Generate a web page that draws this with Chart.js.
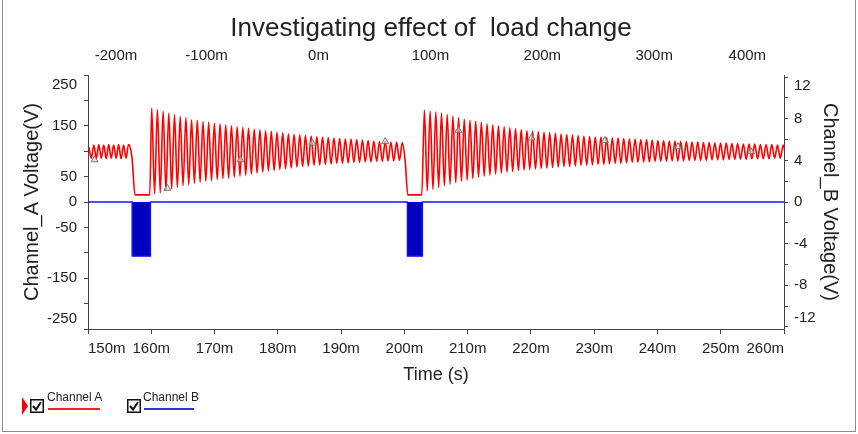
<!DOCTYPE html>
<html>
<head>
<meta charset="utf-8">
<script src="https://cdn.jsdelivr.net/npm/chart.js@4.4.1/dist/chart.umd.min.js"></script>
<style>
  html, body { margin: 0; padding: 0; background: #fff; }
  #wrap { position: relative; width: 858px; height: 434px; font-family: "Liberation Sans", Arial, sans-serif; }
  #scope { position: absolute; left: 0; top: 0; }
  #frame { position: absolute; left: 2px; top: 0; width: 852px; height: 431px; border: 1px solid #8c8c8c; border-top: none; }
  .flag { position: absolute; left: 22px; top: 397px; width: 0; height: 0; border-left: 6px solid #ff0000; border-top: 9px solid transparent; border-bottom: 9px solid transparent; }
  .box { position: absolute; top: 399px; }
  .name { position: absolute; top: 390px; font-size: 12px; color: #222; }
  .line { position: absolute; top: 408px; height: 2px; }
</style>
</head>
<body>
<div id="wrap">
  <canvas id="scope" width="858" height="434"></canvas>
  <div id="frame"></div>
  <div class="flag"></div>
  <svg class="box" style="left:30px" width="14" height="14"><rect x="0.75" y="0.75" width="12.5" height="12.5" fill="#fff" stroke="#111" stroke-width="1.5"/><polyline points="3,7 6,10.5 11,3" fill="none" stroke="#111" stroke-width="2"/></svg>
  <div class="name" style="left:47px">Channel A</div>
  <div class="line" style="left:48px;width:52px;background:#ff2020"></div>
  <svg class="box" style="left:127px" width="14" height="14"><rect x="0.75" y="0.75" width="12.5" height="12.5" fill="#fff" stroke="#111" stroke-width="1.5"/><polyline points="3,7 6,10.5 11,3" fill="none" stroke="#111" stroke-width="2"/></svg>
  <div class="name" style="left:143px">Channel B</div>
  <div class="line" style="left:144px;width:50px;background:#3030e0"></div>
</div>
<script>
// axis ticks
const bottomTicks = [150, 160, 170, 180, 190, 200, 210, 220, 230, 240, 250, 260];
const topTicks = [-200, -100, 0, 100, 200, 300, 400];
const leftTicks = [-250, -200, -150, -100, -50, 0, 50, 100, 150, 200, 250];
const leftLabelled = [250, 150, 50, 0, -50, -150, -250];
const rightTicks = [-12, -10, -8, -6, -4, -2, 0, 2, 4, 6, 8, 10, 12];
const rightLabelled = [12, 8, 4, 0, -4, -8, -12];

// Channel A (V), before the first load change: peak/trough every 0.39 ms from 150.14 ms
const preStart = 150.14;
const preHalf = 0.3915;
const preValues = [108, 86, 112, 85, 113, 86, 112, 85, 113, 86, 112, 86, 113, 85, 112, 86, 113];

// drops to ~14 V while channel B pulses
const gap1Times = [156.95, 157.42, 159.76];
const gap1Values = [88, 14, 14];
const gap2Times = [200.55, 202.75];
const gap2Values = [14, 14];

// ringing after each load change, one peak + one trough per 0.9 ms cycle
const burstPeriod = 0.9;
const burst1Start = 160.07;
const burst1Peaks = [185, 182, 179, 175, 172, 168, 166, 162, 161, 158, 157, 155, 154, 152, 150,
  148, 147, 145, 143, 142, 140, 139, 137, 136, 134, 133, 132, 131, 130, 129,
  128, 127, 126, 125, 124, 124, 123, 122, 121, 120, 119, 119, 118, 118, 117];
const burst1Troughs = [16, 18, 22, 26, 29, 32, 34, 37, 39, 41, 42, 44, 46, 47, 49,
  51, 53, 55, 57, 59, 61, 62, 64, 66, 67, 69, 70, 71, 72, 73,
  74, 75, 76, 76, 77, 78, 78, 79, 79, 80, 80, 81, 81, 82, 82];
const burst2Start = 203.17;
const burst2Peaks = [181, 179, 177, 175, 172, 169, 166, 163, 161, 159, 157, 154, 152, 150, 148,
  146, 144, 142, 140, 139, 138, 137, 136, 135, 134, 133, 132, 131, 130, 129,
  128, 128, 127, 126, 126, 125, 124, 124, 123, 123, 122, 121, 121, 120, 120,
  119, 119, 118, 118, 117, 117, 116, 116, 116, 115, 115, 114, 114, 114, 113,
  113, 113, 112, 112];
const burst2Troughs = [22, 25, 29, 32, 35, 38, 41, 43, 46, 49, 51, 53, 55, 57, 59,
  60, 62, 63, 64, 65, 66, 67, 68, 69, 70, 70, 71, 72, 72, 73,
  74, 74, 75, 76, 76, 77, 78, 78, 79, 79, 80, 80, 80, 81, 81,
  81, 82, 82, 82, 82, 83, 83, 83, 84, 84, 84, 84, 85, 85, 85,
  85, 86, 86, 86];

// Channel B (V)
const chBTimes = [150, 156.98, 156.98, 159.87, 159.87, 200.48, 200.48, 202.85, 202.85, 260];
const chBValues = [0, 0, -5.2, -5.2, 0, 0, -5.2, -5.2, 0, 0];

// measurement markers on channel A
const markerTimes = [151.03, 162.55, 174.08, 185.45, 196.97, 208.55, 220.1, 231.7, 243.25, 254.8];
const markerValues = [83, 27, 83, 116, 119, 141, 126, 121, 109, 99];

function addBurst(pts, start, peaks, troughs) {
  peaks.forEach(function(p, i) {
    pts.push({x: start + i * burstPeriod, y: p});
    pts.push({x: start + i * burstPeriod + burstPeriod / 2, y: troughs[i]});
  });
}

var channelA = [];
preValues.forEach(function(v, i) { channelA.push({x: preStart + i * preHalf, y: v}); });
gap1Times.forEach(function(t, i) { channelA.push({x: t, y: gap1Values[i]}); });
addBurst(channelA, burst1Start, burst1Peaks, burst1Troughs);
gap2Times.forEach(function(t, i) { channelA.push({x: t, y: gap2Values[i]}); });
addBurst(channelA, burst2Start, burst2Peaks, burst2Troughs);

var channelB = chBTimes.map(function(t, i) { return {x: t, y: chBValues[i]}; });
var markers = markerTimes.map(function(t, i) { return {x: t, y: markerValues[i]}; });

Chart.defaults.font.family = '"Liberation Sans", Arial, sans-serif';
Chart.defaults.color = '#222';

var axisGrid = { drawOnChartArea: false, tickLength: 5, color: '#444' };
var axisBorder = { display: true, color: '#444', width: 1 };

new Chart(document.getElementById('scope'), {
  type: 'line',
  data: {
    datasets: [{
      label: 'Markers',
      data: markers,
      xAxisID: 'x',
      yAxisID: 'yA',
      showLine: false,
      pointStyle: 'triangle',
      pointRadius: 4,
      borderColor: '#777',
      backgroundColor: 'rgba(215,215,215,0.6)',
      borderWidth: 1
    }, {
      label: 'Channel A',
      data: channelA,
      xAxisID: 'x',
      yAxisID: 'yA',
      borderColor: '#ff0000',
      borderWidth: 1.6,
      pointRadius: 0,
      cubicInterpolationMode: 'monotone',
      fill: false
    }, {
      label: 'Channel B',
      data: channelB,
      xAxisID: 'x',
      yAxisID: 'yB',
      borderColor: 'rgb(20,20,230)',
      backgroundColor: 'rgb(0,0,190)',
      borderWidth: 1.4,
      pointRadius: 0,
      tension: 0,
      fill: 'origin'
    }]
  },
  options: {
    responsive: false,
    animation: false,
    devicePixelRatio: 1,
    layout: { padding: { left: 20, right: 16, top: 0, bottom: 45.8 } },
    plugins: {
      legend: { display: false },
      tooltip: { enabled: false },
      title: {
        display: true,
        text: 'Investigating effect of  load change',
        font: { size: 26, weight: 'normal' },
        color: '#222',
        padding: { top: 13, bottom: 2.8 }
      }
    },
    scales: {
      x: {
        type: 'linear', position: 'bottom', min: 150, max: 260,
        afterBuildTicks: function(s) { s.ticks = bottomTicks.map(function(v) { return {value: v}; }); },
        afterFit: function(s) { s.height = 59.2; },
        ticks: { align: 'inner', padding: 6, autoSkip: false, maxRotation: 0, font: { size: 15 }, color: '#222',
          callback: function(v) { return v + 'm'; } },
        grid: axisGrid,
        border: axisBorder,
        title: { display: true, text: 'Time (s)', font: { size: 18 }, color: '#222', padding: { top: 0, bottom: 2 } }
      },
      x2: {
        type: 'linear', position: 'top', min: -206, max: 416,
        afterBuildTicks: function(s) { s.ticks = topTicks.map(function(v) { return {value: v}; }); },
        afterFit: function(s) { s.height = 28; },
        ticks: { align: 'inner', padding: 5, autoSkip: false, maxRotation: 0, font: { size: 15 }, color: '#222',
          callback: function(v) { return v + 'm'; } },
        grid: { drawOnChartArea: false, tickLength: 5, color: 'rgba(0,0,0,0)' },
        border: { display: false }
      },
      yA: {
        type: 'linear', position: 'left', min: -250, max: 250,
        afterBuildTicks: function(s) { s.ticks = leftTicks.map(function(v) { return {value: v}; }); },
        afterFit: function(s) { s.width = 68; },
        ticks: { padding: 7, autoSkip: false, font: { size: 15, lineHeight: 1.3 }, color: '#222',
          callback: function(v) {
            if (leftLabelled.indexOf(v) < 0) return '';
            if (v === 250) return ['', '250'];
            if (v === -250) return ['-250', ''];
            return String(v);
          } },
        grid: { drawOnChartArea: false, tickLength: 4, color: '#444' },
        border: axisBorder,
        title: { display: true, text: 'Channel_A Voltage(V)', font: { size: 20 }, color: '#222', padding: { top: 0, bottom: 0 } }
      },
      yB: {
        type: 'linear', position: 'right', min: -12.2, max: 12.2,
        afterBuildTicks: function(s) { s.ticks = rightTicks.map(function(v) { return {value: v}; }); },
        afterFit: function(s) { s.width = 58; },
        ticks: { padding: 6, autoSkip: false, font: { size: 15, lineHeight: 1.2 }, color: '#222',
          callback: function(v) {
            if (rightLabelled.indexOf(v) < 0) return '';
            if (v === 12) return ['', '12'];
            if (v === -12) return ['-12', ''];
            return String(v);
          } },
        grid: { drawOnChartArea: false, tickLength: 4, color: '#444' },
        border: axisBorder,
        title: { display: true, text: 'Channel_B Voltage(V)', font: { size: 20 }, color: '#222', padding: { top: 0, bottom: 0 } }
      }
    }
  }
});
</script>
</body>
</html>
